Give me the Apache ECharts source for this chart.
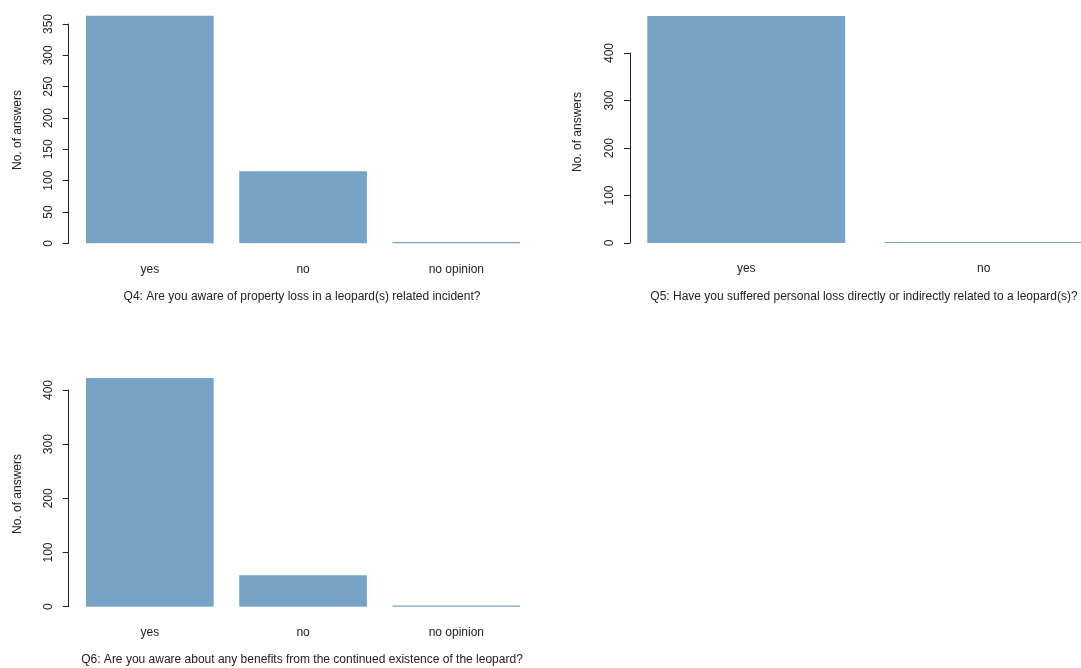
<!DOCTYPE html>
<html>
<head>
<meta charset="utf-8">
<script src="https://cdn.jsdelivr.net/npm/echarts@6/dist/echarts.min.js"></script>
<style>
html,body{margin:0;padding:0;background:#fff;}
#chart{width:1081px;height:668px;}
</style>
</head>
<body>
<div id="chart"></div>
<script>
// ---- data ----
const q4Categories = ['yes', 'no', 'no opinion'];
const q4Values = [363, 115, 2];
const q4Ticks = { max: 350, interval: 50 };
const q4Title = 'Q4: Are you aware of property loss in a leopard(s) related incident?';

const q5Categories = ['yes', 'no'];
const q5Values = [478, 2];
const q5Ticks = { max: 400, interval: 100 };
const q5Title = 'Q5: Have you suffered personal loss directly or indirectly related to a leopard(s)?';

const q6Categories = ['yes', 'no', 'no opinion'];
const q6Values = [422, 58, 2];
const q6Ticks = { max: 400, interval: 100 };
const q6Title = 'Q6: Are you aware about any benefits from the continued existence of the leopard?';

const yLabel = 'No. of answers';

// ---- styling / layout ----
const FONT = '"Liberation Sans", Arial, Helvetica, sans-serif';
const FS = 12;
const BAR = '#77a4c6';
const INK = '#222';

const panels = [
  { cats: q4Categories, vals: q4Values, ticks: q4Ticks, title: q4Title,
    grid: { left: 73.2, top: 24, width: 459.75, height: 219.3 }, axisOffset: 4.5,
    ylab: [18, 130], tlab: [302, 297] },
  { cats: q5Categories, vals: q5Values, ticks: q5Ticks, title: q5Title,
    grid: { left: 627.5, top: 53, width: 475, height: 190 }, axisOffset: -2.5,
    ylab: [578, 132], tlab: [864, 297] },
  { cats: q6Categories, vals: q6Values, ticks: q6Ticks, title: q6Title,
    grid: { left: 73.2, top: 390, width: 459.75, height: 216.7 }, axisOffset: 4.5,
    ylab: [18, 494], tlab: [302, 660] }
];

const option = {
  backgroundColor: '#fff',
  animation: false,
  grid: [], xAxis: [], yAxis: [], series: [], graphic: []
};

panels.forEach((p, i) => {
  option.grid.push(Object.assign({ containLabel: false, outerBoundsMode: 'none' }, p.grid));
  option.xAxis.push({
    type: 'category', gridIndex: i, data: p.cats,
    axisLine: { show: false }, axisTick: { show: false },
    axisLabel: { color: INK, fontFamily: FONT, fontSize: FS, margin: 20 }
  });
  option.yAxis.push({
    type: 'value', gridIndex: i, min: 0, max: p.ticks.max, interval: p.ticks.interval,
    offset: p.axisOffset,
    splitLine: { show: false },
    axisLine: { show: true, lineStyle: { color: INK, width: 1 } },
    axisTick: { show: true, length: 6, lineStyle: { color: INK, width: 1 } },
    axisLabel: { rotate: 90, color: INK, fontFamily: FONT, fontSize: FS, margin: 14 }
  });
  option.series.push({
    type: 'bar', xAxisIndex: i, yAxisIndex: i, data: p.vals,
    clip: false, barCategoryGap: '16.67%',
    itemStyle: { color: BAR }
  });
  option.graphic.push({
    type: 'text', x: p.ylab[0], y: p.ylab[1], rotation: Math.PI / 2,
    style: { text: yLabel, fill: INK, font: FS + 'px ' + FONT, align: 'center', verticalAlign: 'middle' }
  });
  option.graphic.push({
    type: 'text', x: p.tlab[0], y: p.tlab[1],
    style: { text: p.title, fill: INK, font: FS + 'px ' + FONT, align: 'center', verticalAlign: 'middle' }
  });
});

const chart = echarts.init(document.getElementById('chart'), null, { renderer: 'canvas' });
chart.setOption(option);
</script>
</body>
</html>
